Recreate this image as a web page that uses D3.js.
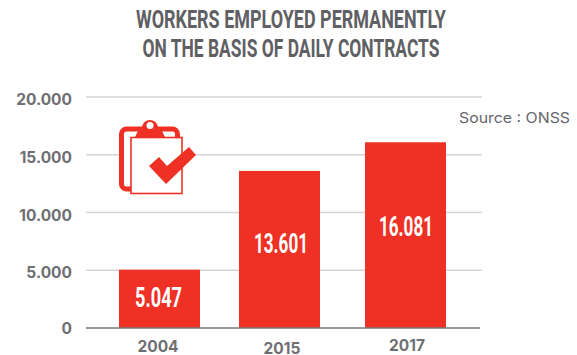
<!DOCTYPE html>
<html>
<head>
<meta charset="utf-8">
<script src="https://cdn.jsdelivr.net/npm/d3@7/dist/d3.min.js"></script>
<style>
html, body { margin: 0; padding: 0; background: #fff; }
svg { display: block; }
.title { font-family: "Liberation Sans Narrow", "Roboto", sans-serif; font-weight: 700; fill: #5f6064; font-size: 26.5px; }
.tick-label { font-family: "Inter", sans-serif; font-weight: 700; fill: #6f6f73; font-size: 15.5px; }
.value-label { font-family: "Liberation Sans Narrow", "Roboto", sans-serif; font-weight: 700; fill: #fff; font-size: 27px; }
.source { font-family: "Inter", sans-serif; fill: #66676b; font-size: 14.5px; }
</style>
</head>
<body>
<svg id="chart" width="577" height="355"></svg>
<script>
const years = ["2004", "2015", "2017"];
const workers = [5047, 13601, 16081];
const valueLabels = ["5.047", "13.601", "16.081"];
const yTicks = [0, 5000, 10000, 15000, 20000];
const yTickLabels = ["0", "5.000", "10.000", "15.000", "20.000"];
const titleLines = ["WORKERS EMPLOYED PERMANENTLY", "ON THE BASIS OF DAILY CONTRACTS"];

const RED = "#ef3024";
const svg = d3.select("#chart");

const y = d3.scaleLinear().domain([0, 20000]).range([328, 97]);
// The three columns are hand-spaced, so the x scale is ordinal with explicit centres.
const xCentre = d3.scaleOrdinal().domain(years).range([159.5, 279.5, 405.5]);
const xLabelX = d3.scaleOrdinal().domain(years).range([158, 282, 407]);
const xLabelY = d3.scaleOrdinal().domain(years).range([351.5, 353.5, 350.5]);
const barWidth = 81;

// Title
svg.selectAll("text.title").data(titleLines).join("text")
  .attr("class", "title")
  .attr("text-anchor", "middle")
  .attr("x", 291)
  .attr("y", (d, i) => 28 + i * 29)
  .attr("textLength", (d, i) => [310, 297][i])
  .attr("lengthAdjust", "spacingAndGlyphs")
  .text(d => d);

// Horizontal grid
svg.append("g").selectAll("line").data(yTicks.filter(d => d > 0)).join("line")
  .attr("x1", 86).attr("x2", 482)
  .attr("y1", d => y(d)).attr("y2", d => y(d))
  .attr("stroke", "#d6d6d8").attr("stroke-width", 1.5);

// Y axis labels
svg.append("g").selectAll("text").data(yTicks).join("text")
  .attr("class", "tick-label")
  .attr("text-anchor", "end")
  .attr("x", 72)
  .attr("y", d => y(d) + (d === 0 ? 6 : 8))
  .text((d, i) => yTickLabels[i]);

// Bars
svg.append("g").selectAll("rect").data(workers).join("rect")
  .attr("x", (d, i) => xCentre(years[i]) - barWidth / 2)
  .attr("width", barWidth)
  .attr("y", d => y(d))
  .attr("height", d => y(0) - y(d))
  .attr("fill", RED);

// Baseline
svg.append("line")
  .attr("x1", 86).attr("x2", 480)
  .attr("y1", y(0)).attr("y2", y(0))
  .attr("stroke", "#77777b").attr("stroke-width", 1.5);

// Values inside the bars
svg.append("g").selectAll("text").data(workers).join("text")
  .attr("class", "value-label")
  .attr("text-anchor", "middle")
  .attr("x", (d, i) => [158.5, 281, 406][i])
  .attr("y", (d, i) => [307, 253, 236][i])
  .attr("textLength", (d, i) => [47, 54, 54][i])
  .attr("lengthAdjust", "spacingAndGlyphs")
  .text((d, i) => valueLabels[i]);

// Year labels
svg.append("g").selectAll("text").data(years).join("text")
  .attr("class", "tick-label")
  .attr("text-anchor", "middle")
  .attr("x", d => xLabelX(d))
  .attr("y", d => xLabelY(d))
  .text(d => d);

// Source note
svg.append("text")
  .attr("class", "source")
  .attr("x", 459)
  .attr("y", 122.5)
  .attr("textLength", 111)
  .attr("lengthAdjust", "spacingAndGlyphs")
  .text("Source : ONSS");

// Clipboard icon with check mark
const icon = svg.append("g").attr("transform", "translate(100,100)");
icon.append("rect").attr("x", 21.5).attr("y", 29).attr("width", 56).attr("height", 60).attr("rx", 5)
  .attr("fill", "#fff").attr("stroke", RED).attr("stroke-width", 5);
icon.append("path").attr("d", "M35 37 L39 29 L42 28 A8 8 0 0 1 58 28 L61 29 L65 37 Z").attr("fill", RED);
icon.append("circle").attr("cx", 50).attr("cy", 25.5).attr("r", 3.5).attr("fill", "#fff");
icon.append("rect").attr("x", 31).attr("y", 37.5).attr("width", 51).attr("height", 56)
  .attr("fill", "#fff").attr("stroke", RED).attr("stroke-width", 1.6);
icon.append("path").attr("d", "M49 66 L59 57 L67 66 L89 47 L96 55 L66 84 Z").attr("fill", RED);
</script>
</body>
</html>
